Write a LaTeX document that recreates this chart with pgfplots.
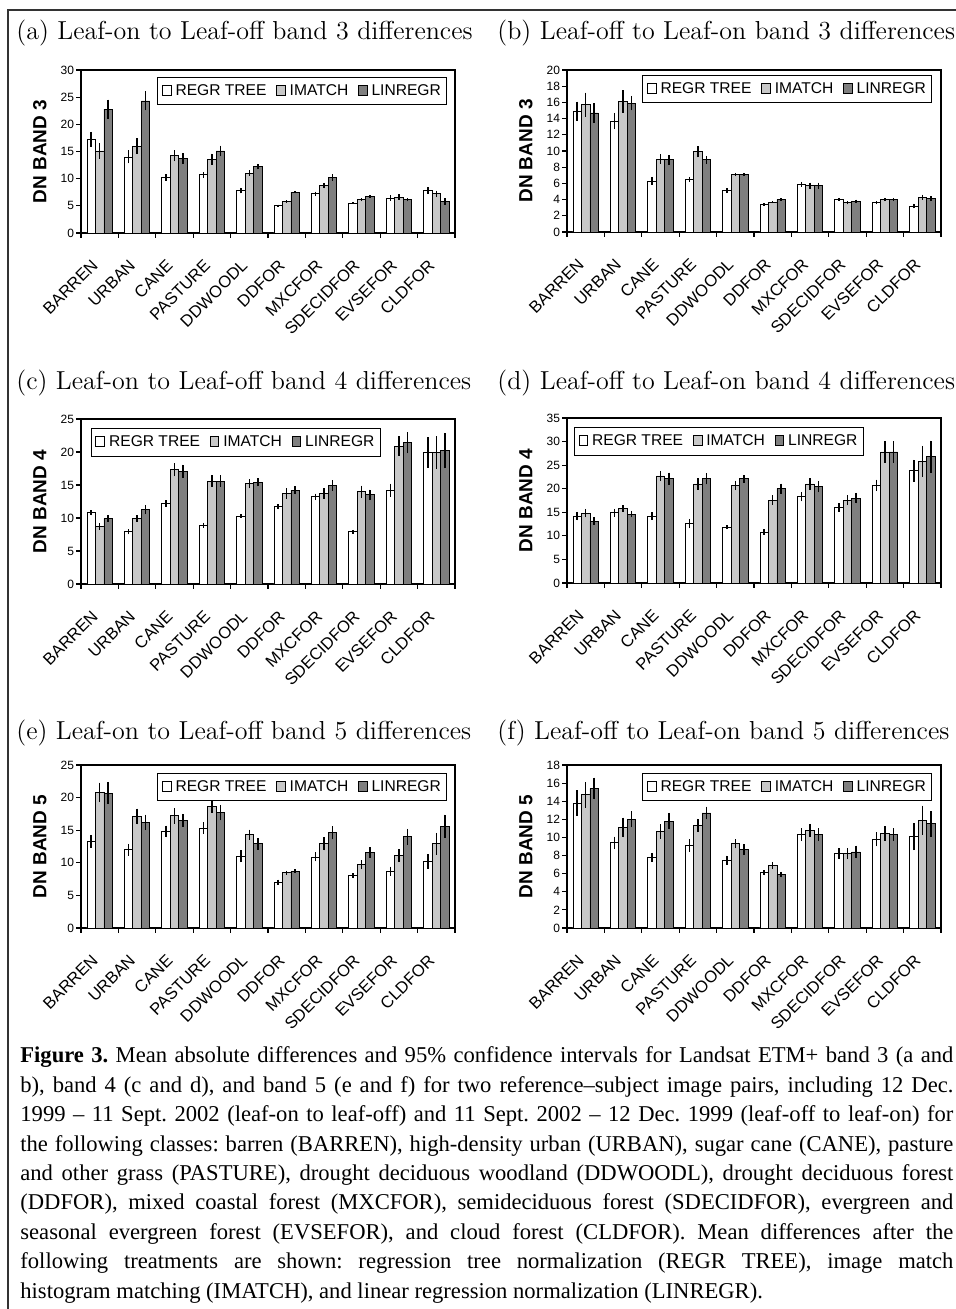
\documentclass[border=0pt]{standalone}
\usepackage{fontspec}
\usepackage{pgfplots}
\usepackage{pgfplotstable}
\pgfplotsset{compat=1.18}
\newfontfamily\arial{Liberation Sans}
\newfontfamily\capfont{Liberation Serif}
\definecolor{gA}{HTML}{C8C8C8}
\definecolor{gB}{HTML}{7F7F7F}

\pgfplotstableread{
x rt rte im ime lr lre
1 17.2 1.4 15.1 1.4 22.8 1.75
2 14.0 1.2 16.0 1.4 24.3 1.75
3 10.2 0.6 14.2 1.0 13.7 1.0
4 10.7 0.5 13.6 1.0 15.1 1.0
5 7.8 0.5 11.0 0.5 12.2 0.5
6 5.0 0.2 5.8 0.2 7.5 0.2
7 7.2 0.4 8.7 0.5 10.2 0.6
8 5.5 0.2 6.1 0.3 6.7 0.3
9 6.4 0.5 6.6 0.5 6.1 0.3
10 7.8 0.6 7.2 0.6 5.8 0.6
}\dataA
\pgfplotstableread{
x rt rte im ime lr lre
1 14.9 1.2 15.7 1.5 14.7 1.2
2 13.7 1.0 16.1 1.4 15.9 0.9
3 6.3 0.5 9.0 0.6 8.9 0.6
4 6.5 0.3 9.9 0.7 8.9 0.5
5 5.1 0.3 7.1 0.2 7.1 0.2
6 3.4 0.15 3.7 0.15 4.0 0.15
7 5.9 0.3 5.7 0.4 5.7 0.4
8 4.0 0.2 3.6 0.2 3.8 0.2
9 3.6 0.2 4.0 0.2 4.0 0.2
10 3.2 0.3 4.3 0.3 4.1 0.3
}\dataB
\pgfplotstableread{
x rt rte im ime lr lre
1 10.8 0.4 8.7 0.5 9.9 0.5
2 7.9 0.4 9.9 0.5 11.3 0.7
3 12.2 0.5 17.3 1.0 17.1 1.0
4 8.9 0.4 15.6 0.9 15.6 0.9
5 10.3 0.3 15.2 0.7 15.4 0.6
6 11.7 0.4 13.7 0.8 14.2 0.6
7 13.2 0.5 13.7 0.8 14.9 0.8
8 7.9 0.3 14.0 0.9 13.5 0.8
9 14.2 1.0 20.9 1.5 21.4 1.6
10 19.9 2.3 19.9 2.5 20.2 2.7
}\dataC
\pgfplotstableread{
x rt rte im ime lr lre
1 14.2 0.9 14.8 0.9 13.1 0.8
2 14.9 0.8 15.8 0.7 14.6 0.7
3 14.2 0.8 22.7 1.1 22.1 1.3
4 12.6 1.0 21.0 1.2 22.1 1.2
5 11.8 0.4 20.7 1.0 22.1 0.8
6 10.8 0.6 17.6 1.0 20.0 1.1
7 18.3 1.0 21.0 1.2 20.4 1.2
8 16.0 0.9 17.6 1.0 18.0 1.1
9 20.7 1.2 27.8 2.3 27.8 2.3
10 23.8 2.3 25.8 3.3 26.8 3.4
}\dataD
\pgfplotstableread{
x rt rte im ime lr lre
1 13.3 1.0 20.8 1.5 20.7 1.7
2 12.0 0.9 17.1 1.2 16.2 1.2
3 14.8 0.9 17.2 1.2 16.5 1.0
4 15.3 0.9 18.7 1.0 17.7 1.2
5 11.0 0.9 14.3 0.8 12.9 0.9
6 7.0 0.4 8.5 0.3 8.7 0.3
7 10.9 0.7 12.9 1.0 14.6 1.0
8 8.0 0.4 9.7 0.7 11.6 0.8
9 8.7 0.7 11.1 1.0 14.0 1.2
10 10.2 1.1 12.9 1.7 15.6 1.8
}\dataE
\pgfplotstableread{
x rt rte im ime lr lre
1 13.8 1.4 14.7 1.4 15.4 1.2
2 9.4 0.7 11.1 1.1 12.0 0.9
3 7.8 0.5 10.65 0.8 11.8 0.9
4 9.1 0.7 11.35 0.7 12.7 0.7
5 7.5 0.5 9.3 0.5 8.7 0.6
6 6.1 0.3 6.9 0.4 5.9 0.3
7 10.3 0.7 10.8 0.7 10.3 0.7
8 8.2 0.6 8.2 0.6 8.4 0.7
9 9.8 0.8 10.45 0.8 10.3 0.7
10 10.1 1.5 11.9 1.6 11.5 1.4
}\dataF

\pgfplotsset{
 panel/.style={
  width=187pt, height=81.5pt, scale only axis,
  anchor=south west,
  xmin=0.5, xmax=10.5, ymin=0,
  ybar, bar width=0.227,
  axis line style={line width=0.6pt},
  tick pos=left,
  tick align=outside, major tick length=2.5pt,
  tick style={line width=0.6pt, black},
  xtick={0.5,1.5,...,10.5}, xticklabels={},
  extra x ticks={1,2,...,10},
  extra x tick labels={BARREN,URBAN,CANE,PASTURE,DDWOODL,DDFOR,MXCFOR,SDECIDFOR,EVSEFOR,CLDFOR},
  extra x tick style={tick style={draw=none}},
  xticklabel style={font=\arial\fontsize{8.3}{9}\selectfont, inner sep=0pt, xshift=-4.5pt, yshift=-10pt, rotate=45, anchor=north east},
  yticklabel style={font=\arial\fontsize{6}{7}\selectfont, inner sep=0.8pt},
  /pgf/number format/assume math mode=true,
  ylabel style={font=\arial\bfseries\fontsize{9.5}{11}\selectfont, at={(axis description cs:-0.11,0.5)}, anchor=center},
  legend columns=3,
  legend style={draw=black, line width=0.5pt, font=\arial\fontsize{7.8}{9}\selectfont, inner xsep=2pt, inner ysep=2.6pt, nodes={inner sep=0.8pt}, /tikz/every even column/.append style={column sep=4pt}, /tikz/every odd column/.append style={column sep=1.2pt}},
  legend image code/.code={\draw[#1, draw=black, line width=0.4pt] (0pt,-2.2pt) rectangle (4.4pt,2.8pt);},
 },
 ebar/.style={error bars/.cd, y dir=both, y explicit, error mark=none, error bar style={line width=0.75pt, black}},
 srt/.style={fill=white, draw=black, line width=0.4pt, bar shift=-0.227, ebar},
 sim/.style={fill=gA, draw=black, line width=0.4pt, bar shift=0, ebar},
 slr/.style={fill=gB, draw=black, line width=0.4pt, bar shift=0.227, ebar},
}

\newcommand\bars[1]{%
  \addplot[srt] table[x=x, y=rt, y error=rte] {#1};
  \addplot[sim] table[x=x, y=im, y error=ime] {#1};
  \addplot[slr] table[x=x, y=lr, y error=lre] {#1};
  \legend{REGR TREE, IMATCH, LINREGR}}

\begin{document}
\begin{tikzpicture}
\useasboundingbox (0,0) rectangle (478pt,654.5pt);
\draw[line width=0.7pt, black!80] (478pt,649.5pt) -- (4pt,649.5pt) -- (4pt,0pt);

\tikzset{ttl/.style={anchor=base west, inner sep=0pt, font=\fontsize{13}{15}\selectfont}}
\node[ttl] at (8pt,634.5pt) {(a) Leaf-on to Leaf-off band 3 differences};
\node[ttl] at (248.5pt,634.5pt) {(b) Leaf-off to Leaf-on band 3 differences};
\node[ttl] at (8pt,459.5pt) {(c) Leaf-on to Leaf-off band 4 differences};
\node[ttl] at (248.5pt,459.5pt) {(d) Leaf-off to Leaf-on band 4 differences};
\node[ttl] at (8pt,284.5pt) {(e) Leaf-on to Leaf-off band 5 differences};
\node[ttl] at (248.5pt,284.5pt) {(f) Leaf-off to Leaf-on band 5 differences};

\begin{axis}[panel, at={(40.5pt,538pt)}, ymax=30, ytick={0,5,...,30}, ylabel={DN BAND 3},
  legend style={at={(0.9786,0.957)}, anchor=north east}]
\bars{\dataA}
\end{axis}
\begin{axis}[panel, at={(283.5pt,538.5pt)}, height=81pt, ymax=20, ytick={0,2,...,20}, ylabel={DN BAND 3},
  legend style={at={(0.976,0.969)}, anchor=north east}]
\bars{\dataB}
\end{axis}
\begin{axis}[panel, at={(40.5pt,362.5pt)}, height=82.5pt, ymax=25, ytick={0,5,...,25}, ylabel={DN BAND 4},
  legend style={at={(0.0267,0.945)}, anchor=north west}]
\bars{\dataC}
\end{axis}
\begin{axis}[panel, at={(283.5pt,363pt)}, height=82.5pt, ymax=35, ytick={0,5,...,35}, ylabel={DN BAND 4},
  legend style={at={(0.0187,0.945)}, anchor=north west}]
\bars{\dataD}
\end{axis}
\begin{axis}[panel, at={(40.5pt,190.5pt)}, ymax=25, ytick={0,5,...,25}, ylabel={DN BAND 5},
  legend style={at={(0.9786,0.951)}, anchor=north east}]
\bars{\dataE}
\end{axis}
\begin{axis}[panel, at={(283.5pt,190.5pt)}, ymax=18, ytick={0,2,...,18}, ylabel={DN BAND 5},
  legend style={at={(0.976,0.951)}, anchor=north east}]
\bars{\dataF}
\end{axis}

\node[anchor=base west, inner sep=0pt] at (10pt,123pt) {\parbox[t]{466.5pt}{\capfont\frenchspacing\fontsize{11.3}{14.7}\selectfont\setlength{\parindent}{0pt}%
\makebox[\linewidth][s]{\textbf{Figure 3.} Mean absolute differences and 95\% confidence intervals for Landsat ETM+ band 3 (a and}\par
\makebox[\linewidth][s]{b), band 4 (c and d), and band 5 (e and f) for two reference–subject image pairs, including 12 Dec.}\par
\makebox[\linewidth][s]{1999 – 11 Sept. 2002 (leaf-on to leaf-off) and 11 Sept. 2002 – 12 Dec. 1999 (leaf-off to leaf-on) for}\par
\makebox[\linewidth][s]{the following classes: barren (BARREN), high-density urban (URBAN), sugar cane (CANE), pasture}\par
\makebox[\linewidth][s]{and other grass (PASTURE), drought deciduous woodland (DDWOODL), drought deciduous forest}\par
\makebox[\linewidth][s]{(DDFOR), mixed coastal forest (MXCFOR), semideciduous forest (SDECIDFOR), evergreen and}\par
\makebox[\linewidth][s]{seasonal evergreen forest (EVSEFOR), and cloud forest (CLDFOR). Mean differences after the}\par
\makebox[\linewidth][s]{following treatments are shown: regression tree normalization (REGR TREE), image match}\par
histogram matching (IMATCH), and linear regression normalization (LINREGR).}};
\end{tikzpicture}
\end{document}
